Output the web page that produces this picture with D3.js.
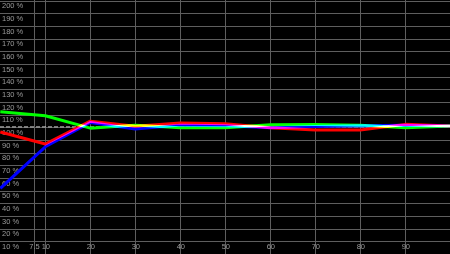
<!DOCTYPE html>
<html>
<head>
<meta charset="utf-8">
<script src="https://cdn.jsdelivr.net/npm/d3@7"></script>
<style>
  body { margin: 0; background: #000; }
  svg { display: block; background: #000; }
  .grid line { stroke: #5e5e5e; stroke-width: 1; shape-rendering: crispEdges; }
  .lbl { font-family: "Liberation Sans", Arial, sans-serif; font-size: 7.5px; fill: #9a9a9a; }
  .series { fill: none; stroke-width: 3; stroke-linejoin: round; mix-blend-mode: screen; }
</style>
</head>
<body>
<div id="chart"></div>
<script>
// chart data
var xValues = [0, 10, 20, 30, 40, 50, 60, 70, 80, 90, 100];
var redValues = [96, 86.5, 104.5, 100.5, 103, 102.5, 99.3, 97.5, 97.5, 102, 100.8];
var greenValues = [112, 108.8, 99, 101.4, 99.3, 99.3, 101.7, 101.8, 101.4, 99.3, 100.8];
var blueValues = [51.5, 84.3, 103.5, 98.3, 101.4, 101, 99.3, 100.3, 101, 101.3, 100.8];
var xTicks = [7.5, 10, 20, 30, 40, 50, 60, 70, 80, 90];
var xTickLabels = ["7.5", "10", "20", "30", "40", "50", "60", "70", "80", "90"];
var yTicks = [10, 20, 30, 40, 50, 60, 70, 80, 90, 100, 110, 120, 130, 140, 150, 160, 170, 180, 190, 200];
var referenceLevel = 100;

var width = 450,
    height = 254;

var svg = d3.select("#chart")
  .append("svg")
    .attr("width", width)
    .attr("height", height);

var x = d3.scaleLinear().domain([0, 100]).range([0.3, 450.3]);
var y = d3.scaleLinear().domain([0, 200]).range([253.6, 0.2]);

// horizontal grid + percent labels
var gy = svg.append("g").attr("class", "grid")
  .call(d3.axisRight(y).tickValues(yTicks).tickSize(width).tickFormat(function(d){ return d + " %"; }));
gy.select(".domain").remove();
gy.selectAll(".tick line").attr("transform", "translate(0,0.5)");
gy.selectAll(".tick text")
  .attr("class", "lbl")
  .attr("x", 2)
  .attr("dy", "0.6em")
  .attr("y", 3)
  .style("text-anchor", "start");

// vertical grid + labels
var gx = svg.append("g").attr("class", "grid")
  .call(d3.axisBottom(x).tickValues(xTicks).tickSize(height).tickFormat(function(d, i){ return xTickLabels[i]; }));
gx.select(".domain").remove();
gx.selectAll(".tick text")
  .attr("class", "lbl")
  .attr("y", height - 10)
  .attr("dy", "0.71em")
  .style("text-anchor", "middle");

// dashed 100 % reference
svg.append("line")
  .attr("x1", 0).attr("x2", width)
  .attr("y1", y(referenceLevel)).attr("y2", y(referenceLevel))
  .attr("stroke", "#c8c8c8")
  .attr("stroke-width", 1)
  .attr("stroke-dasharray", "4,2");

var line = d3.line()
  .x(function(d, i){ return x(xValues[i]); })
  .y(function(d){ return y(d); });

var series = [
  { values: redValues, color: "#ff0000" },
  { values: greenValues, color: "#00ff00" },
  { values: blueValues, color: "#0000ff" }
];

var plot = svg.append("g").style("isolation", "isolate");
plot.selectAll("path.series")
  .data(series)
  .enter()
  .append("path")
    .attr("class", "series")
    .attr("d", function(d){ return line(d.values); })
    .attr("stroke", function(d){ return d.color; });
</script>
</body>
</html>
